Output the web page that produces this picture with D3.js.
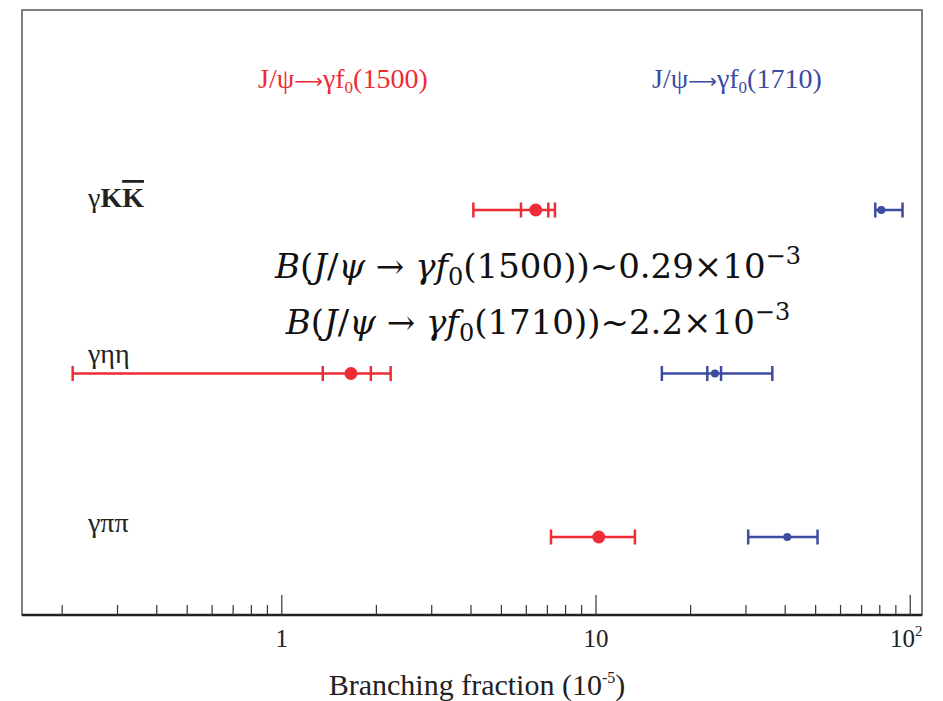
<!DOCTYPE html>
<html>
<head>
<meta charset="utf-8">
<script src="https://cdn.jsdelivr.net/npm/d3@7"></script>
<style>
  html, body { margin: 0; padding: 0; background: #fff; }
  svg { display: block; }
  text { font-family: "Liberation Serif", "Times New Roman", serif; }
</style>
</head>
<body>
<svg id="chart" width="943" height="701"></svg>
<script>
// Decay channels, top to bottom
const channels = ["γKK̄", "γηη", "γππ"];

// J/ψ → γ f0(1500): outer low, inner low, central, inner high, outer high (×10⁻⁵)
const f1500Low     = [4.07, 0.216, 7.19];
const f1500InnerLo = [5.77, 1.35, null];
const f1500Value   = [6.43, 1.66, 10.2];
const f1500InnerHi = [7.05, 1.92, null];
const f1500High    = [7.40, 2.22, 13.3];

// J/ψ → γ f0(1710)
const f1710Low     = [77.4, 16.2, 30.5];
const f1710InnerLo = [null, 22.6, null];
const f1710Value   = [80.9, 23.9, 40.6];
const f1710InnerHi = [null, 25.0, null];
const f1710High    = [94.5, 36.4, 50.7];

const majorTicks = [1, 10, 100];
const minorTicks = [0.2,0.3,0.4,0.5,0.6,0.7,0.8,0.9,2,3,4,5,6,7,8,9,20,30,40,50,60,70,80,90];

const RED = "#ef2b35";
const BLUE = "#3d4ba0";

const svg = d3.select("#chart");
const plotLeft = 22, plotRight = 922, plotTop = 10, plotBottom = 615;

const x = d3.scaleLog().domain([0.149, 109]).range([plotLeft, plotRight]);
const y = d3.scalePoint().domain(channels).range([210, 537]);

// frame
svg.append("rect")
  .attr("x", plotLeft).attr("y", plotTop)
  .attr("width", plotRight - plotLeft).attr("height", plotBottom - plotTop)
  .attr("fill", "none").attr("stroke", "#555").attr("stroke-width", 1.5);

// bottom axis with inward ticks
const axisG = svg.append("g").attr("transform", `translate(0,${plotBottom})`);
axisG.append("line").attr("x1", plotLeft).attr("x2", plotRight)
  .attr("stroke", "#222").attr("stroke-width", 2.5);
axisG.selectAll("line.minor").data(minorTicks).join("line")
  .attr("class", "minor")
  .attr("x1", d => x(d)).attr("x2", d => x(d))
  .attr("y1", 0).attr("y2", -10)
  .attr("stroke", "#333").attr("stroke-width", 1.2);
axisG.selectAll("line.major").data(majorTicks).join("line")
  .attr("class", "major")
  .attr("x1", d => x(d)).attr("x2", d => x(d))
  .attr("y1", 0).attr("y2", -20)
  .attr("stroke", "#333").attr("stroke-width", 1.2);

// tick labels
const tickText = axisG.selectAll("text.tick").data(majorTicks).join("text")
  .attr("class", "tick")
  .attr("x", d => x(d)).attr("y", 32)
  .attr("text-anchor", "middle")
  .attr("font-size", 25).attr("fill", "#222");
tickText.each(function(d) {
  const t = d3.select(this);
  if (d === 100) {
    t.attr("dx", -4);
    t.append("tspan").text("10");
    t.append("tspan").attr("dy", -11).attr("font-size", 15).text("2");
  } else {
    t.text(d);
  }
});

// axis title
const xt = svg.append("text")
  .attr("x", 477).attr("y", 695)
  .attr("text-anchor", "middle")
  .attr("font-size", 30).attr("fill", "#222");
xt.append("tspan").text("Branching fraction (10");
xt.append("tspan").attr("dy", -12).attr("font-size", 16).text("-5");
xt.append("tspan").attr("dy", 12).text(")");

// series titles
function seriesTitle(xPos, label, color) {
  const t = svg.append("text").attr("x", xPos).attr("y", 88)
    .attr("font-size", 28).attr("fill", color);
  t.append("tspan").text("J/ψ");
  t.append("tspan").style("font-family", "'DejaVu Sans', sans-serif")
    .attr("font-size", 20).text("⟶");
  t.append("tspan").text("γf");
  t.append("tspan").attr("dy", 5).attr("font-size", 17).text("0");
  t.append("tspan").attr("dy", -5).text(`(${label})`);
}
seriesTitle(258, "1500", RED);
seriesTitle(652, "1710", BLUE);

// channel labels
const labelYOffset = { "γKK̄": -3, "γηη": -11, "γππ": -5 };
channels.forEach(c => {
  const t = svg.append("text")
    .attr("x", 88).attr("y", y(c) + labelYOffset[c])
    .attr("font-size", 28).attr("fill", "#222");
  if (c === "γKK̄") {
    t.append("tspan").text("γ");
    t.append("tspan").attr("font-weight", "bold").text("K");
    t.append("tspan").attr("font-weight", "bold")
      .attr("text-decoration", "overline").text("K");
  } else {
    t.text(c);
  }
});

// error bars
function drawSeries(lo, inLo, val, inHi, hi, color, r) {
  const g = svg.append("g");
  const capH = 7.5;
  channels.forEach((c, i) => {
    const cy = y(c);
    g.append("line")
      .attr("x1", x(lo[i])).attr("x2", x(hi[i]))
      .attr("y1", cy).attr("y2", cy)
      .attr("stroke", color).attr("stroke-width", 2.5);
    [lo[i], inLo[i], inHi[i], hi[i]].filter(v => v != null).forEach(v => {
      g.append("line")
        .attr("x1", x(v)).attr("x2", x(v))
        .attr("y1", cy - capH).attr("y2", cy + capH)
        .attr("stroke", color).attr("stroke-width", 2.5);
    });
    g.append("circle")
      .attr("cx", x(val[i])).attr("cy", cy).attr("r", r)
      .attr("fill", color);
  });
}
drawSeries(f1500Low, f1500InnerLo, f1500Value, f1500InnerHi, f1500High, RED, 6.5);
drawSeries(f1710Low, f1710InnerLo, f1710Value, f1710InnerHi, f1710High, BLUE, 4);

// branching ratio annotations
function formula(yPos, mass, val) {
  const t = svg.append("text").attr("x", 538).attr("y", yPos)
    .attr("text-anchor", "middle")
    .style("font-family", "'DejaVu Serif', serif")
    .attr("font-size", 34).attr("fill", "#111");
  t.append("tspan").attr("font-style", "italic").text("B");
  t.append("tspan").text("(");
  t.append("tspan").attr("font-style", "italic").text("J");
  t.append("tspan").text("/");
  t.append("tspan").attr("font-style", "italic").text("ψ");
  t.append("tspan").text(" → ");
  t.append("tspan").attr("font-style", "italic").text("γf");
  t.append("tspan").attr("dy", 7).attr("font-size", 24).text("0");
  t.append("tspan").attr("dy", -7).text(`(${mass}))~${val}×10`);
  t.append("tspan").attr("dy", -14).attr("font-size", 24).text("−3");
}
formula(278, "1500", "0.29");
formula(334, "1710", "2.2");
</script>
</body>
</html>
